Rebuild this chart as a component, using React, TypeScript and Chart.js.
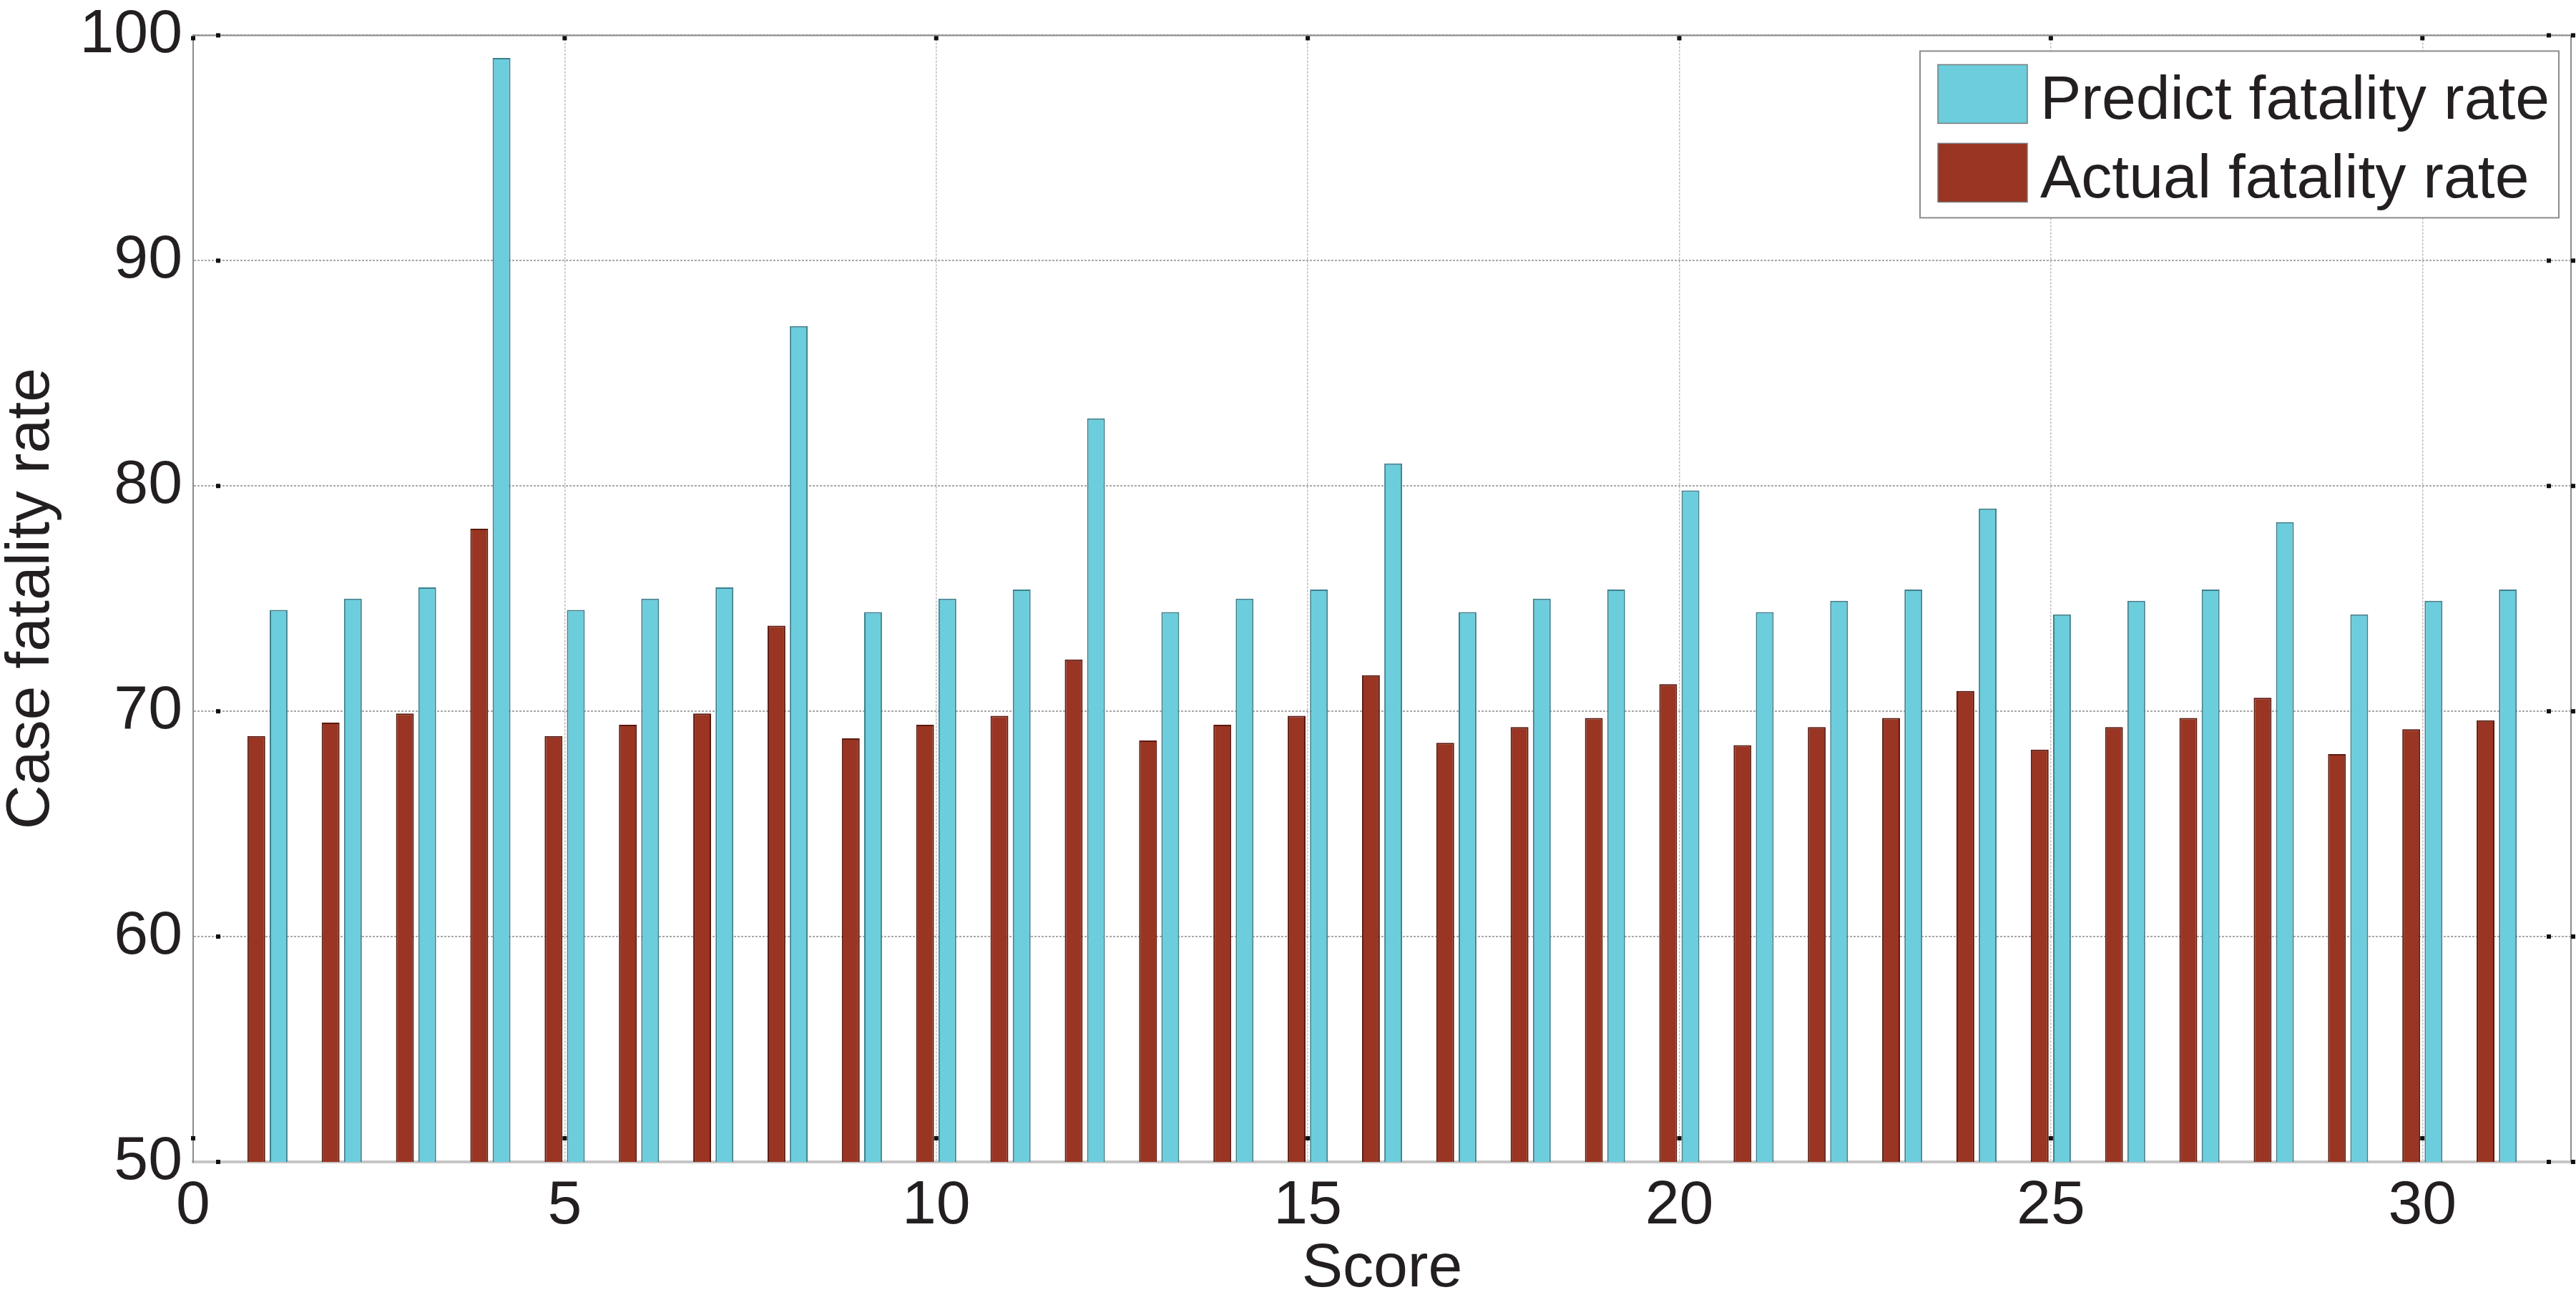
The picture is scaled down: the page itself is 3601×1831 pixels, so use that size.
import { useEffect, useRef } from 'react'
import { Chart, registerables } from 'chart.js'

Chart.register(...registerables)

const scores = [1, 2, 3, 4, 5, 6, 7, 8, 9, 10, 11, 12, 13, 14, 15, 16, 17, 18, 19, 20, 21, 22, 23, 24, 25, 26, 27, 28, 29, 30, 31]
const predictRate = [74.5, 75.0, 75.5, 99.0, 74.5, 75.0, 75.5, 87.1, 74.4, 75.0, 75.4, 83.0, 74.4, 75.0, 75.4, 81.0, 74.4, 75.0, 75.4, 79.8, 74.4, 74.9, 75.4, 79.0, 74.3, 74.9, 75.4, 78.4, 74.3, 74.9, 75.4]
const actualRate = [68.9, 69.5, 69.9, 78.1, 68.9, 69.4, 69.9, 73.8, 68.8, 69.4, 69.8, 72.3, 68.7, 69.4, 69.8, 71.6, 68.6, 69.3, 69.7, 71.2, 68.5, 69.3, 69.7, 70.9, 68.3, 69.3, 69.7, 70.6, 68.1, 69.2, 69.6]
const xTickValues = [0, 5, 10, 15, 20, 25, 30]
const yTickValues = [50, 60, 70, 80, 90, 100]

const FONT = "'Liberation Sans', Arial, Helvetica, sans-serif"
const TEXT = '#231f20'
const CYAN = '#6ccddd'
const RED = '#993522'

// top/right frame plus the little tick dots matlab leaves behind
const framePlugin = {
  id: 'frame',
  afterDraw(chart: any) {
    const { ctx, chartArea: a, scales } = chart
    ctx.save()
    ctx.strokeStyle = '#8c8c8c'
    ctx.lineWidth = 2
    ctx.beginPath()
    ctx.moveTo(a.left, a.top)
    ctx.lineTo(a.right, a.top)
    ctx.lineTo(a.right, a.bottom)
    ctx.stroke()
    ctx.fillStyle = '#111'
    xTickValues.forEach(v => {
      const x = scales.x.getPixelForValue(v)
      ctx.fillRect(x - 3, a.top + 1, 6, 6)
      ctx.fillRect(x - 3, a.bottom - 36, 6, 6)
    })
    yTickValues.forEach(v => {
      const y = scales.y.getPixelForValue(v)
      ctx.fillRect(a.left + 32, y - 3, 6, 6)
      ctx.fillRect(a.right - 34, y - 3, 6, 6)
      ctx.fillRect(a.right, y - 3, 6, 6)
    })
    ctx.restore()
  }
}

const boxLegend = {
  id: 'boxLegend',
  afterDraw(chart: any) {
    const { ctx, chartArea } = chart
    const w = 893
    const h = 233
    const x0 = chartArea.right - 17 - w
    const y0 = chartArea.top + 22
    ctx.save()
    ctx.fillStyle = '#fff'
    ctx.fillRect(x0, y0, w, h)
    ctx.strokeStyle = '#8c8c8c'
    ctx.lineWidth = 2
    ctx.strokeRect(x0, y0, w, h)
    const items = [...chart.data.datasets].reverse()
    items.forEach((ds: any, i: number) => {
      const cy = y0 + 60 + i * 110
      ctx.fillStyle = ds.backgroundColor
      ctx.fillRect(x0 + 25, cy - 41, 125, 82)
      ctx.strokeStyle = '#7a7a7a'
      ctx.lineWidth = 1.5
      ctx.strokeRect(x0 + 25, cy - 41, 125, 82)
      ctx.fillStyle = TEXT
      ctx.font = `86px ${FONT}`
      ctx.textBaseline = 'alphabetic'
      ctx.textAlign = 'left'
      ctx.fillText(ds.label, x0 + 168, cy + 35)
    })
    ctx.restore()
  }
}

export default function App() {
  const ref = useRef<HTMLCanvasElement>(null)

  useEffect(() => {
    if (!ref.current) return
    const chart = new Chart(ref.current, {
      type: 'bar',
      data: {
        datasets: [
          {
            label: 'Actual fatality rate',
            data: scores.map((s, i) => ({ x: s, y: actualRate[i] })),
            backgroundColor: RED,
            borderColor: '#5a1a10',
            borderWidth: 2
          },
          {
            label: 'Predict fatality rate',
            data: scores.map((s, i) => ({ x: s, y: predictRate[i] })),
            backgroundColor: CYAN,
            borderColor: '#3f7f8c',
            borderWidth: 2
          }
        ]
      },
      options: {
        animation: false,
        responsive: true,
        maintainAspectRatio: false,
        devicePixelRatio: 1,
        layout: { padding: { top: 41, right: 7, left: 0, bottom: 0 } },
        datasets: { bar: { categoryPercentage: 0.6, barPercentage: 0.8 } },
        plugins: { legend: { display: false }, tooltip: { enabled: false } },
        scales: {
          x: {
            type: 'linear',
            min: 0,
            max: 32,
            offset: false,
            afterBuildTicks: (axis: any) => { axis.ticks = xTickValues.map(v => ({ value: v })) },
            afterFit: (axis: any) => { axis.height = 207 },
            grid: { offset: false, color: '#bcbcbc', lineWidth: 1.5, drawTicks: false },
            border: { color: '#c6c6c6', width: 4, dash: [3, 2] },
            ticks: { padding: 11, color: TEXT, font: { family: FONT, size: 86 }, includeBounds: false },
            title: {
              display: true,
              text: 'Score',
              color: TEXT,
              font: { family: FONT, size: 86, lineHeight: 1 },
              padding: { top: 0, bottom: 14 }
            }
          },
          y: {
            min: 50,
            max: 100,
            afterBuildTicks: (axis: any) => { axis.ticks = yTickValues.map(v => ({ value: v })) },
            afterFit: (axis: any) => { axis.width = 270 },
            grid: { color: '#a8a8a8', lineWidth: 2, drawTicks: false },
            border: { color: '#8c8c8c', width: 2, dash: [3, 2] },
            ticks: { padding: 15, color: TEXT, font: { family: FONT, size: 86, lineHeight: 0.8 } },
            title: {
              display: true,
              text: 'Case fatality rate',
              color: TEXT,
              font: { family: FONT, size: 86, lineHeight: 1 },
              padding: { top: 1, bottom: 0 }
            }
          }
        }
      },
      plugins: [framePlugin, boxLegend]
    })
    return () => chart.destroy()
  }, [])

  return (
    <div style={{ position: 'fixed', left: 0, top: 0, width: 3601, height: 1831, background: '#fff' }}>
      <canvas ref={ref} />
    </div>
  )
}
